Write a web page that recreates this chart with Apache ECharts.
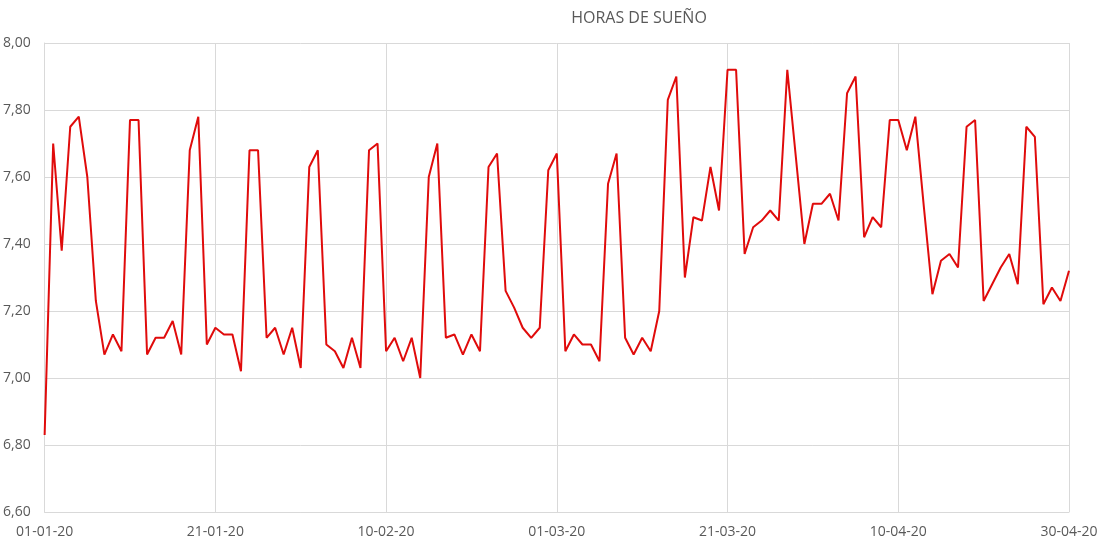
<!DOCTYPE html>
<html>
<head>
<meta charset="utf-8">
<script src="https://cdn.jsdelivr.net/npm/echarts@6/dist/echarts.min.js"></script>
<style>html,body{margin:0;padding:0;background:#fff;}#c{width:1104px;height:545px;}</style>
</head>
<body>
<div id="c"></div>
<script>
const title = 'HORAS DE SUEÑO';
const startDate = [2020, 0, 1];
const dayCount = 121;
const values = [
  6.83, 7.70, 7.38, 7.75, 7.78, 7.60, 7.23, 7.07, 7.13, 7.08,
  7.77, 7.77, 7.07, 7.12, 7.12, 7.17, 7.07, 7.68, 7.78, 7.10,
  7.15, 7.13, 7.13, 7.02, 7.68, 7.68, 7.12, 7.15, 7.07, 7.15,
  7.03, 7.63, 7.68, 7.10, 7.08, 7.03, 7.12, 7.03, 7.68, 7.70,
  7.08, 7.12, 7.05, 7.12, 7.00, 7.60, 7.70, 7.12, 7.13, 7.07,
  7.13, 7.08, 7.63, 7.67, 7.26, 7.21, 7.15, 7.12, 7.15, 7.62,
  7.67, 7.08, 7.13, 7.10, 7.10, 7.05, 7.58, 7.67, 7.12, 7.07,
  7.12, 7.08, 7.20, 7.83, 7.90, 7.30, 7.48, 7.47, 7.63, 7.50,
  7.92, 7.92, 7.37, 7.45, 7.47, 7.50, 7.47, 7.92, 7.66, 7.40,
  7.52, 7.52, 7.55, 7.47, 7.85, 7.90, 7.42, 7.48, 7.45, 7.77,
  7.77, 7.68, 7.78, 7.51, 7.25, 7.35, 7.37, 7.33, 7.75, 7.77,
  7.23, 7.28, 7.33, 7.37, 7.28, 7.75, 7.72, 7.22, 7.27, 7.23,
  7.32
];
const yTicks = { min: 6.6, max: 8.0, step: 0.2 };

function pad(n){ return (n < 10 ? '0' : '') + n; }
const categories = [];
for (let i = 0; i < dayCount; i++) {
  const d = new Date(startDate[0], startDate[1], startDate[2] + i);
  categories.push(pad(d.getDate()) + '-' + pad(d.getMonth() + 1) + '-' + String(d.getFullYear()).slice(2));
}

const chart = echarts.init(document.getElementById('c'));
const font = '"Open Sans", "Liberation Sans", sans-serif';
chart.setOption({
  animation: false,
  backgroundColor: '#ffffff',
  title: {
    text: title,
    left: 634, top: 5, textAlign: 'center',
    textStyle: { color: '#595959', fontSize: 16, fontWeight: 'normal', fontFamily: font }
  },
  grid: { left: 44, right: 35, top: 43, bottom: 33, containLabel: false },
  xAxis: {
    type: 'category',
    data: categories,
    boundaryGap: false,
    axisLine: { show: true, lineStyle: { color: '#d9d9d9', width: 1 } },
    axisTick: { show: false },
    axisLabel: { interval: 19, color: '#595959', fontSize: 14, fontFamily: font, margin: 13 },
    splitLine: { show: true, interval: 19, lineStyle: { color: '#d9d9d9', width: 1 } }
  },
  yAxis: {
    type: 'value',
    min: yTicks.min, max: yTicks.max, interval: yTicks.step,
    axisLine: { show: true, lineStyle: { color: '#d9d9d9', width: 1 } },
    axisTick: { show: false },
    axisLabel: {
      color: '#595959', fontSize: 14, fontFamily: font, margin: 14,
      formatter: v => v.toFixed(2).replace('.', ',')
    },
    splitLine: { show: true, lineStyle: { color: '#d9d9d9', width: 1 } }
  },
  series: [{
    type: 'line',
    data: values,
    symbol: 'none',
    lineStyle: { color: '#e00b0b', width: 2 },
    itemStyle: { color: '#e00b0b' }
  }]
});
</script>
</body>
</html>
